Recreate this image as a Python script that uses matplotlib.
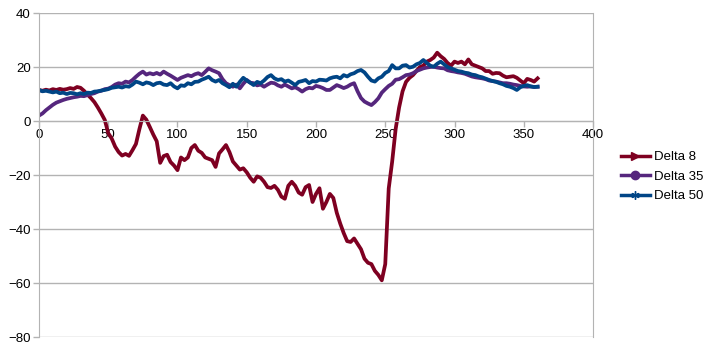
import matplotlib.pyplot as plt
from matplotlib.lines import Line2D
import numpy as np

plt.rcParams['font.family'] = ['Liberation Sans', 'DejaVu Sans']

# x positions: 0 .. 360 in steps of 2.5
x_vals = np.arange(0, 360.1, 2.5)

delta_8 = [
    11.5, 11.2, 11.6, 11.3, 11.8, 11.5, 11.9, 11.6, 11.8, 12.2,
    11.9, 12.6, 12.3, 11.2, 9.8, 8.5, 7.0, 5.0, 2.8, 0.4,
    -4.5, -6.5, -9.5, -11.5, -12.8, -12.2, -12.9, -10.8, -8.5, -3.0,
    2.0, 0.5, -2.2, -5.0, -7.5, -15.5, -13.0, -12.5, -15.2, -16.5,
    -18.2, -13.5, -14.5, -13.5, -10.0, -8.9, -11.0, -11.8, -13.5, -14.0,
    -14.5, -17.0, -12.0, -10.5, -8.9, -11.5, -15.0, -16.5, -18.0, -17.5,
    -19.0, -21.0, -22.5, -20.5, -21.0, -22.5, -24.5, -24.8, -24.0, -25.5,
    -28.0, -28.8, -24.0, -22.5, -24.0, -26.5, -27.3, -24.5, -23.7, -30.0,
    -27.0, -24.9, -32.5, -30.0, -27.0, -28.5, -34.0, -38.0, -41.5, -44.5,
    -44.8, -43.5, -45.5, -47.5, -51.0, -52.5, -53.0, -55.5, -57.0, -59.0,
    -53.0, -25.0, -15.0, -3.0, 5.0, 11.0, 14.5, 16.0, 17.0, 18.5,
    20.0, 20.5, 22.0, 22.6, 23.5, 25.3, 24.0, 23.0, 21.5, 20.5,
    22.0, 21.5, 22.0, 21.0, 22.8, 21.0, 20.5, 20.0, 19.5, 18.5,
    18.5, 17.5, 17.8, 17.7, 16.8, 16.2, 16.4, 16.6, 16.0, 15.0,
    14.0, 15.6, 15.2, 14.6, 15.8,
]

delta_35 = [
    2.0, 2.8, 4.0, 5.0, 6.0, 6.8, 7.3, 7.8, 8.2, 8.5,
    8.8, 9.0, 9.3, 9.2, 9.6, 10.0, 10.3, 10.9, 11.2, 11.8,
    12.0, 12.6, 13.5, 14.0, 13.8, 14.6, 14.3, 15.2, 16.4, 17.5,
    18.3, 17.2, 17.7, 17.3, 17.8, 17.2, 18.3, 17.5, 16.8, 16.0,
    15.2, 16.0, 16.5, 17.0, 16.6, 17.3, 17.7, 17.0, 18.2, 19.5,
    18.8, 18.3, 17.7, 15.5, 14.0, 13.3, 12.7, 13.5, 12.1, 13.8,
    15.2, 14.2, 14.0, 13.2, 13.5, 12.7, 13.5, 14.2, 14.0, 13.2,
    12.7, 13.5, 12.8, 12.1, 12.5, 11.8, 10.9, 11.8, 12.3, 12.1,
    13.0, 12.7, 12.2, 11.5, 11.5, 12.4, 13.3, 12.8, 12.2, 12.7,
    13.5, 14.0, 11.0, 8.5, 7.2, 6.5, 5.9, 7.0, 8.4, 10.5,
    11.8, 13.0, 13.8, 15.3, 15.5, 16.2, 17.0, 17.2, 17.7, 18.5,
    19.0, 19.5, 19.8, 20.0, 20.1, 19.8, 19.6, 19.5, 18.8, 18.5,
    18.3, 18.0, 17.8, 17.5, 17.0, 16.5, 16.2, 16.0, 15.8, 15.5,
    15.0, 14.8, 14.6, 14.3, 14.0, 14.0, 13.8, 13.5, 13.3, 13.0,
    12.8, 12.7, 12.8, 12.6, 12.7,
]

delta_50 = [
    11.5, 11.0, 11.2, 10.9, 10.6, 10.9, 10.3, 10.5, 10.0, 10.4,
    10.3, 9.9, 10.3, 10.0, 10.5, 10.4, 10.9, 11.0, 11.3, 11.5,
    11.8, 12.3, 12.5, 12.7, 12.4, 12.9, 12.7, 13.5, 14.6, 14.2,
    13.6, 14.3, 14.0, 13.3, 14.0, 14.2, 13.5, 13.3, 14.0, 12.8,
    12.1, 13.2, 13.0, 14.0, 13.6, 14.5, 14.6, 15.3, 15.8, 16.4,
    15.2, 14.6, 15.2, 14.0, 13.3, 12.5, 13.8, 12.7, 14.5, 16.0,
    15.0, 14.2, 13.3, 14.5, 14.0, 15.0, 16.3, 17.0, 15.8, 15.2,
    15.5, 14.6, 15.0, 14.2, 13.3, 14.5, 14.8, 15.2, 14.0, 14.8,
    14.6, 15.3, 15.2, 15.0, 15.8, 16.2, 16.4, 15.8, 17.0, 16.5,
    17.3, 17.7, 18.5, 18.9, 18.0, 16.4, 15.0, 14.6, 15.8, 16.4,
    17.8, 18.5, 20.7, 19.5, 19.5, 20.5, 20.7, 19.8, 20.1, 21.0,
    21.5, 22.6, 21.5, 20.5, 20.1, 21.2, 22.0, 21.0, 20.0, 19.5,
    19.0, 18.5, 18.3, 17.9, 17.7, 17.2, 17.0, 16.5, 16.2, 15.7,
    15.2, 14.8, 14.5, 14.0, 13.6, 13.0, 12.7, 12.2, 11.5, 12.5,
    13.0, 13.3, 12.8, 12.6, 12.7,
]

series_names = ['Delta 8', 'Delta 35', 'Delta 50']
series_data = [delta_8, delta_35, delta_50]
colors = ['#7e0021', '#55267d', '#004586']
markers = ['>', 'o', (6, 2, 0)]

fig = plt.figure(figsize=(7.09, 3.48), dpi=100)
ax = fig.add_axes([0.055, 0.0316, 0.7814, 0.931])

for name, vals, c in zip(series_names, series_data, colors):
    ax.plot(x_vals, vals, color=c, lw=2.7, solid_joinstyle='round')

ax.set_xlim(0, 400)
ax.set_ylim(-80, 40)
ax.set_xticks(np.arange(0, 401, 50))
ax.set_yticks(np.arange(-80, 41, 20))
ax.yaxis.grid(True, color='#b3b3b3', lw=1)
ax.set_axisbelow(True)

grey = '#b3b3b3'
ax.spines['bottom'].set_position(('data', 0))
for s in ['bottom', 'left', 'right']:
    ax.spines[s].set_color(grey)
ax.spines['top'].set_visible(False)
ax.tick_params(axis='both', colors=grey, labelcolor='black', labelsize=9.5,
               length=4, width=1, direction='out')
ax.tick_params(axis='x', pad=2)
ax.tick_params(axis='y', pad=2)

handles = [Line2D([0], [0], color=c, lw=2.5, marker=m, markersize=6,
                  markerfacecolor=c, markeredgecolor=c)
           for c, m in zip(colors, markers)]
fig.legend(handles, series_names, loc='center left', bbox_to_anchor=(0.859, 0.492),
           frameon=False, fontsize=9.5, handlelength=2.2, handletextpad=0.3,
           labelspacing=0.55)

fig.savefig('out.png', dpi=100)
